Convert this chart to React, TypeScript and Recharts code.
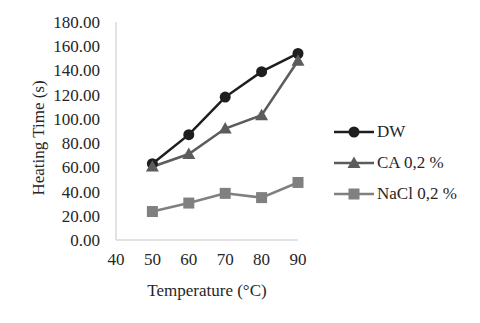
import React from "react";
import { Line, LineChart, XAxis, YAxis } from "recharts";

// Values.
const temperatures = [50, 60, 70, 80, 90];
const dwTimes = [63, 87, 118, 139, 154];
const caTimes = [60.5, 71, 92, 103, 148];
const naclTimes = [23.5, 30.5, 38.5, 35, 47.5];

const xTicks = [40, 50, 60, 70, 80, 90];
const yTicks = [0, 20, 40, 60, 80, 100, 120, 140, 160, 180];

const FONT = "Liberation Serif";
const TEXT = "#262626";
const AXIS = "#d9d9d9";

type Shape = "circle" | "triangle" | "square";

const SERIES: { key: string; name: string; color: string; shape: Shape }[] = [
  { key: "dw", name: "DW", color: "#1e1e1e", shape: "circle" },
  { key: "ca", name: "CA 0,2 %", color: "#5c5c5c", shape: "triangle" },
  { key: "nacl", name: "NaCl 0,2 %", color: "#808080", shape: "square" },
];

const rows = temperatures.map((t, i) => ({
  temp: t,
  dw: dwTimes[i],
  ca: caTimes[i],
  nacl: naclTimes[i],
}));

const TICK_STYLE = { fontFamily: FONT, fontSize: 17, fill: TEXT };

function Marker({ cx, cy, shape, color }: { cx: number; cy: number; shape: Shape; color: string }) {
  if (cx == null || cy == null) return null;
  if (shape === "circle") return <circle cx={cx} cy={cy} r={5.5} fill={color} />;
  if (shape === "triangle") {
    const s = 6.5;
    return (
      <polygon
        points={`${cx},${cy - s} ${cx - s},${cy + s * 0.75} ${cx + s},${cy + s * 0.75}`}
        fill={color}
      />
    );
  }
  return <rect x={cx - 5.5} y={cy - 5.5} width={11} height={11} fill={color} />;
}

function shapeDot(shape: Shape, color: string) {
  return (props: any) => (
    <Marker key={`${shape}-${props.index}`} cx={props.cx} cy={props.cy} shape={shape} color={color} />
  );
}

// Rotated axis title, centred a little below the plot's middle like the original.
function YLabel({ viewBox }: any) {
  const cy = viewBox.y + viewBox.height / 2 + 7;
  return (
    <text
      x={38}
      y={cy}
      transform={`rotate(-90, 38, ${cy})`}
      textAnchor="middle"
      dominantBaseline="central"
      style={TICK_STYLE}
    >
      Heating Time (s)
    </text>
  );
}

// Legend sits to the right of the plot, outside the chart's own layout.
function SeriesLegend() {
  return (
    <div
      style={{
        position: "absolute",
        left: 334,
        top: 116,
        fontFamily: FONT,
        fontSize: 17,
        color: TEXT,
      }}
    >
      {SERIES.map((s) => (
        <div key={s.key} style={{ display: "flex", alignItems: "center", height: 31 }}>
          <svg width={42} height={16} style={{ marginRight: 1 }}>
            <line x1={0} y1={8} x2={40} y2={8} stroke={s.color} strokeWidth={2.5} />
            <Marker cx={20} cy={8} shape={s.shape} color={s.color} />
          </svg>
          <span>{s.name}</span>
        </div>
      ))}
    </div>
  );
}

export default function App() {
  return (
    <div style={{ position: "absolute", left: 0, top: 0, width: 480, height: 323, background: "#fff" }}>
      <LineChart
        width={480}
        height={323}
        data={rows}
        margin={{ top: 22, right: 182, bottom: 33, left: 0 }}
      >
        <XAxis
          dataKey="temp"
          type="number"
          domain={[40, 90]}
          ticks={xTicks}
          interval={0}
          height={50}
          tickLine={false}
          axisLine={{ stroke: AXIS, strokeWidth: 1.5 }}
          tickMargin={7}
          tick={TICK_STYLE}
          label={{
            value: "Temperature (°C)",
            position: "bottom",
            offset: -6,
            style: TICK_STYLE,
          }}
        />
        <YAxis
          width={116}
          domain={[0, 180]}
          ticks={yTicks}
          interval={0}
          tickLine={false}
          axisLine={{ stroke: AXIS, strokeWidth: 1.5 }}
          tickMargin={10}
          tickFormatter={(v: number) => v.toFixed(2)}
          tick={TICK_STYLE}
          label={<YLabel />}
        />
        {SERIES.map((s) => (
          <Line
            key={s.key}
            dataKey={s.key}
            name={s.name}
            stroke={s.color}
            strokeWidth={2.5}
            dot={shapeDot(s.shape, s.color)}
            activeDot={false}
            isAnimationActive={false}
          />
        ))}
      </LineChart>
      <SeriesLegend />
    </div>
  );
}
